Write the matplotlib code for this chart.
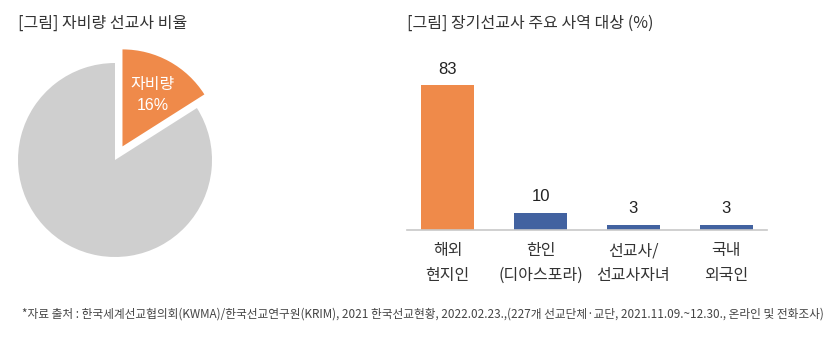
import matplotlib
matplotlib.use("Agg")
import matplotlib.pyplot as plt

plt.rcParams["font.family"] = ["Noto Sans CJK KR", "DejaVu Sans"]
num_font = ["Liberation Sans", "Noto Sans CJK KR"]

# 데이터
pie_labels = ["자비량", "기타"]
pie_values = [16, 84]
pie_colors = ["#EF8A4A", "#CFCFCF"]

bar_labels = ["해외\n현지인", "한인\n(디아스포라)", "선교사/\n선교사자녀", "국내\n외국인"]
bar_values = [83, 10, 3, 3]
bar_colors = ["#EF8A4A", "#4262A0", "#4262A0", "#4262A0"]

title_left = "[그림] 자비량 선교사 비율"
title_right = "[그림] 장기선교사 주요 사역 대상 (%)"
source = ("*자료 출처 : 한국세계선교협의회(KWMA)/한국선교연구원(KRIM), 2021 한국선교현황, 2022.02.23.,"
          "(227개 선교단체·교단, 2021.11.09.~12.30., 온라인 및 전화조사)")

W, H = 835, 339
fig = plt.figure(figsize=(W / 100, H / 100), dpi=100)
fig.patch.set_facecolor("white")

def px_axes(left, top, width, height):
    return fig.add_axes([left / W, 1 - (top + height) / H, width / W, height / H])

# 파이 차트
r_px = 97
half = 1.2 * r_px
ax1 = px_axes(115 - half, 160 - half, 2 * half, 2 * half)
ax1.pie(pie_values, colors=pie_colors, startangle=90, counterclock=False,
        explode=[0.16, 0], radius=1)
ax1.set_xlim(-1.2, 1.2)
ax1.set_ylim(-1.2, 1.2)
ax1.set_aspect("equal")
ax1.axis("off")
ax1.text(0.39, 0.665, f"{pie_labels[0]}\n{pie_values[0]}%", color="white", family=num_font,
         fontsize=11.5, ha="center", va="center", linespacing=1.5)

# 막대 차트
scale = 1.747
ax2 = px_axes(407, 230 - 100 * scale, 360, 100 * scale)
x = range(len(bar_values))
bars = ax2.bar(x, bar_values, width=0.57, color=bar_colors)
ax2.bar_label(bars, labels=[str(v) for v in bar_values], padding=6, fontsize=12,
              color="#222222", family=num_font)
ax2.set_xlim(-0.44, 3.44)
ax2.set_ylim(0, 100)
ax2.set_yticks([])
ax2.set_xticks(list(x))
ax2.set_xticklabels(bar_labels, fontsize=11.5, color="#333333", linespacing=1.55)
ax2.tick_params(axis="x", length=0, pad=9)
for s in ["top", "right", "left"]:
    ax2.spines[s].set_visible(False)
ax2.spines["bottom"].set_color("#C8C8C8")
ax2.spines["bottom"].set_linewidth(1.2)

# 제목 및 출처
fig.text(18 / W, 1 - 23 / H, title_left, fontsize=11.5, color="#333333", va="center")
fig.text(407 / W, 1 - 23 / H, title_right, fontsize=11.5, color="#333333", va="center")
fig.text(22 / W, 1 - 314 / H, source, fontsize=8.45, color="#444444", va="center")

plt.savefig("out.png", dpi=100, facecolor="white")
plt.close()
